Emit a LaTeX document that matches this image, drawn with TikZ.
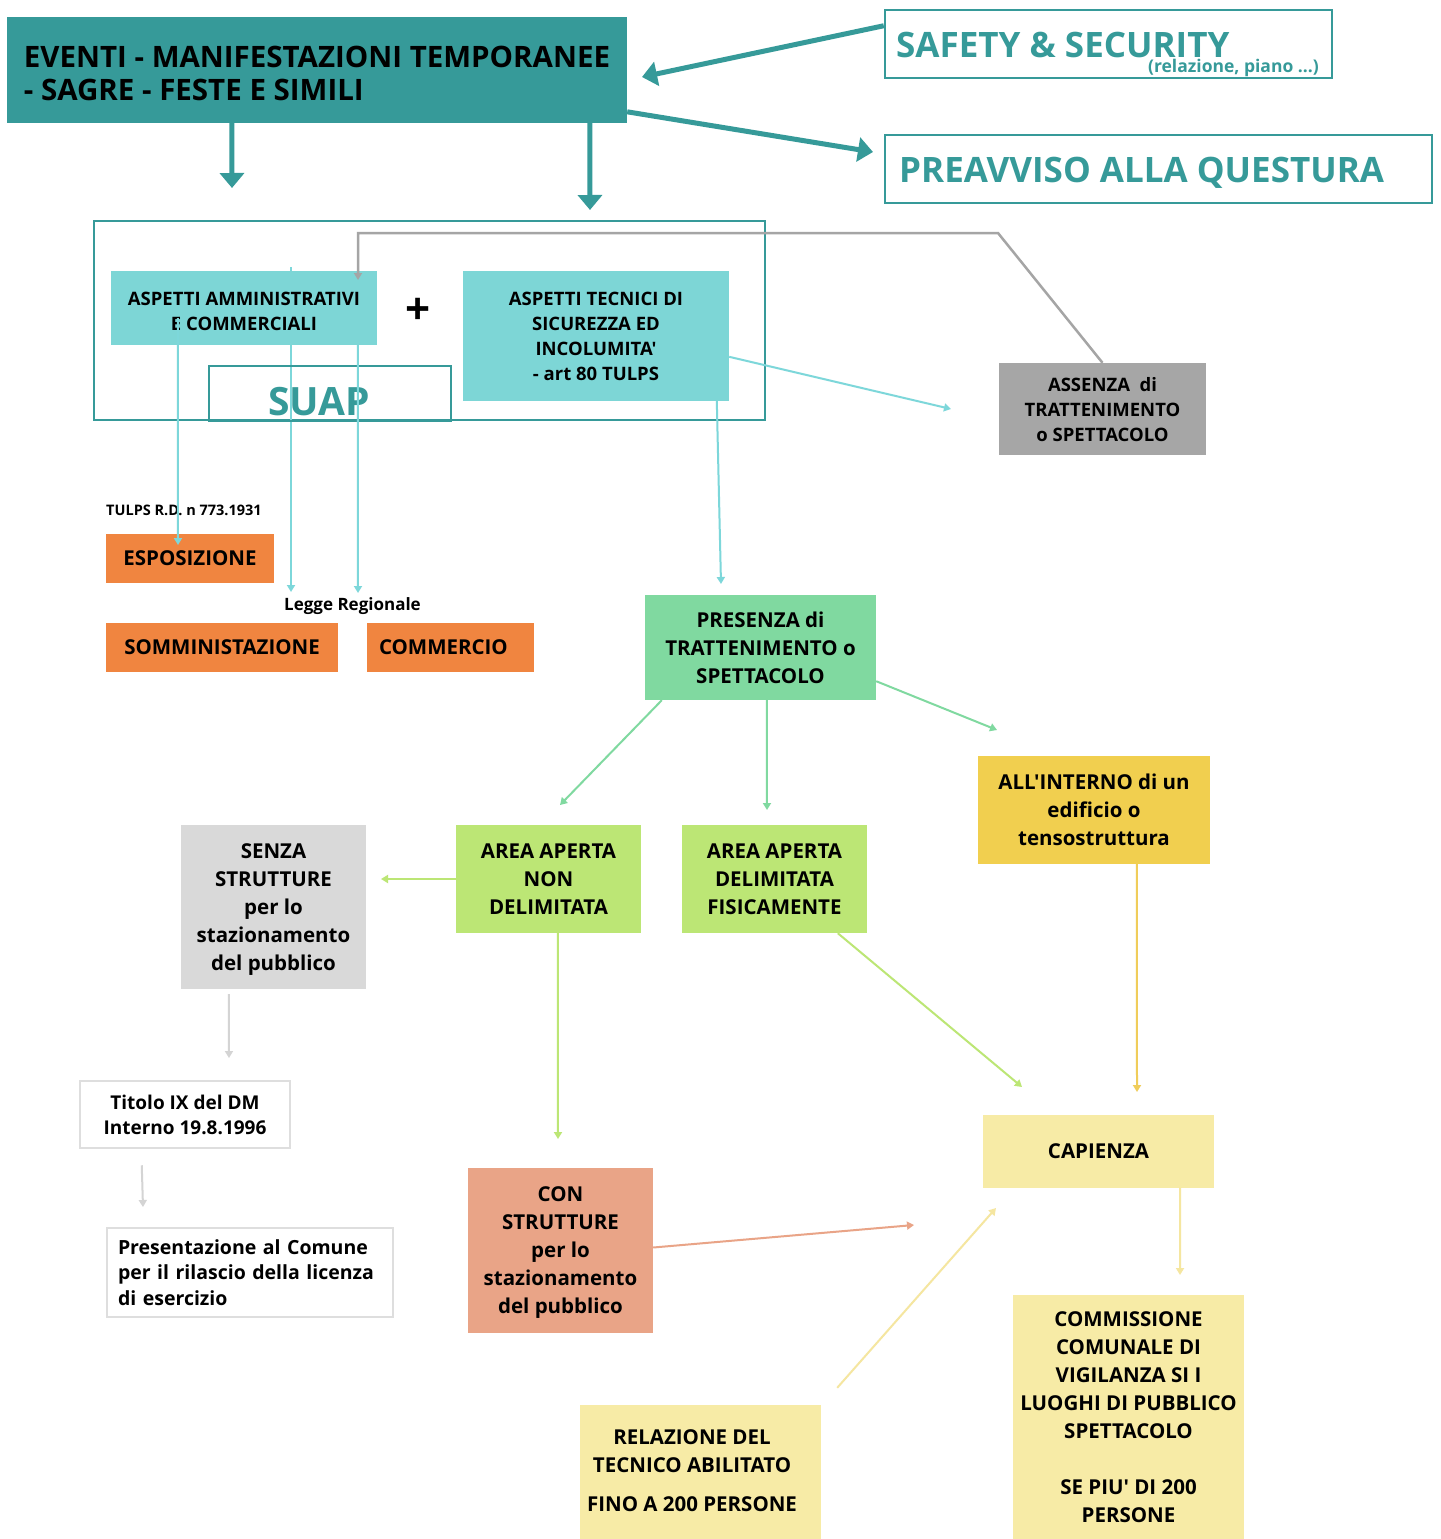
\documentclass[tikz,border=0pt]{standalone}
\usepackage{fontspec}
\setmainfont{Open Sans}[Ligatures=TeXOff]
\usetikzlibrary{arrows.meta}
\definecolor{teal1}{RGB}{54,154,153}
\definecolor{cyanbox}{RGB}{125,214,214}
\definecolor{cyanline}{RGB}{125,215,218}
\definecolor{grayline}{RGB}{165,165,165}
\definecolor{graydark}{RGB}{166,166,166}
\definecolor{orange1}{RGB}{240,133,64}
\definecolor{green1}{RGB}{128,217,160}
\definecolor{green2}{RGB}{188,230,117}
\definecolor{gold1}{RGB}{241,207,79}
\definecolor{graylight}{RGB}{217,217,217}
\definecolor{salmon1}{RGB}{233,164,135}
\definecolor{yellow1}{RGB}{247,235,166}
\definecolor{borderg}{RGB}{222,222,222}
\definecolor{arrowgray}{RGB}{212,212,212}
\definecolor{yellowline}{RGB}{245,230,160}
\definecolor{goldline}{RGB}{240,205,90}
\tikzset{
  bxb/.style={rectangle, inner sep=0pt, align=center, text=black,
    font=\bfseries\fontsize{20.5}{28}\selectfont},
  bx/.style={bxb, text depth=0pt},
  sm/.style={font=\bfseries\fontsize{18.5}{25}\selectfont},
  frame/.style={rectangle, draw=teal1, line width=2.5pt, inner sep=0pt},
  bigarrow/.style={draw=teal1, line width=5pt, -{Triangle[length=15pt,width=24pt]}},
  thinarrow/.style={line width=2pt, -{Triangle[length=7pt,width=8pt]}},
}
\begin{document}
\begin{tikzpicture}[x=1pt,y=-1pt]
\useasboundingbox (0,0) rectangle (1440,1539);
\fill[white] (0,0) rectangle (1440,1539);

% free ends
\coordinate (tS) at (642,77);
\coordinate (tQ) at (873,152);
\coordinate (tD1) at (232,188);
\coordinate (tD2) at (590,210);
\coordinate (gA) at (998,233);
\coordinate (tG) at (358,280);
\coordinate (c291) at (291,267);
\coordinate (t291) at (291,592);
\coordinate (t178) at (178,545);
\coordinate (t358) at (358,593);
\coordinate (t717) at (721,584);
\coordinate (tA) at (951,409);
\coordinate (tP1) at (560,805);
\coordinate (tP2) at (767,810);
\coordinate (tP3) at (997,730);
\coordinate (tN1) at (381,879);
\coordinate (tN2) at (558,1139);
\coordinate (tDf) at (1022,1087);
\coordinate (tI) at (1137,1092);
\coordinate (tS1) at (229,1058);
\coordinate (tT1) at (143,1207);
\coordinate (tC) at (914,1225);
\coordinate (tCap) at (1180,1275);
\coordinate (tR) at (996,1208);

% header and top boxes
\node[bx, fill=teal1, minimum width=620pt, minimum height=106pt, align=left,
  font=\bfseries\fontsize{29.5}{33}\selectfont] (header) at (317,70)
  {\rule{0pt}{27pt}EVENTI - MANIFESTAZIONI TEMPORANEE\\- SAGRE - FESTE E SIMILI};
\node[frame, minimum width=447pt, minimum height=68pt] (safety) at (1108.5,44) {};
\node[anchor=base west, inner sep=0pt, text=teal1, font=\bfseries\fontsize{35}{35}\selectfont]
  (safetyT) at (896,57) {SAFETY \& SECURITY};
\node[anchor=base east, inner sep=0pt, text=teal1, font=\bfseries\fontsize{17.5}{18}\selectfont]
  (safetySub) at (1319,72) {(relazione, piano ...)};
\node[frame, minimum width=547pt, minimum height=68pt] (preav) at (1158.5,169) {};
\node[anchor=base west, inner sep=0pt, text=teal1, font=\bfseries\fontsize{35}{35}\selectfont]
  (preavT) at (899,182) {PREAVVISO ALLA QUESTURA};

% SUAP frame
\node[frame, minimum width=671pt, minimum height=199pt] (suapframe) at (429.5,320.5) {};
\draw[thinarrow, cyanline] (c291) -- (t291);

\node[bx, sm, fill=cyanbox, minimum width=266pt, minimum height=74pt] (aam) at (244,308)
  {\rule{0pt}{20.5pt}ASPETTI AMMINISTRATIVI\\E COMMERCIALI};
\node[inner sep=0pt, font=\bfseries\fontsize{44}{44}\selectfont] (plus) at (418,311) {+};
\node[bx, sm, fill=cyanbox, minimum width=266pt, minimum height=130pt] (tec) at (596,336)
  {ASPETTI TECNICI DI\\SICUREZZA ED\\INCOLUMITA'\\- art 80 TULPS};
\node[frame, minimum width=242pt, minimum height=55pt] (suap) at (330,393.5) {};
\node[anchor=base, inner sep=0pt, text=teal1, font=\bfseries\fontsize{39}{39}\selectfont]
  (suapT) at (319,415) {SUAP};

\node[bx, sm, fill=graydark, minimum width=207pt, minimum height=92pt] (assenza) at (1102.5,409)
  {ASSENZA\ \ di\\TRATTENIMENTO\\o SPETTACOLO};

% orange boxes
\node[anchor=base west, inner sep=0pt, font=\bfseries\fontsize{14.5}{15}\selectfont]
  (tulps) at (106,515) {TULPS R.D. n 773.1931};
\node[bx, fill=orange1, minimum width=168pt, minimum height=49pt] (esp) at (190,558.5) {ESPOSIZIONE};
\node[anchor=base west, inner sep=0pt, font=\bfseries\fontsize{17}{18}\selectfont]
  (legge) at (284,610) {Legge Regionale};
\node[bx, fill=orange1, minimum width=232pt, minimum height=49pt] (somm) at (222,647.5) {SOMMINISTAZIONE};
\node[bxb, fill=orange1, minimum width=167pt, minimum height=49pt, align=left,
  text width=143pt, inner xsep=12pt] (comm) at (450.5,647.5) {COMMERCIO};

% middle
\node[bx, fill=green1, minimum width=231pt, minimum height=105pt] (pres) at (760.5,647.5)
  {PRESENZA di\\TRATTENIMENTO o\\SPETTACOLO};
\node[bx, fill=gold1, minimum width=232pt, minimum height=108pt] (allint) at (1094,810)
  {ALL'INTERNO di un\\edificio o\\tensostruttura};
\node[bx, fill=green2, minimum width=185pt, minimum height=108pt] (aan) at (548.5,879)
  {AREA APERTA\\NON\\DELIMITATA};
\node[bx, fill=green2, minimum width=185pt, minimum height=108pt] (aad) at (774.5,879)
  {AREA APERTA\\DELIMITATA\\FISICAMENTE};
\node[bx, fill=graylight, minimum width=185pt, minimum height=164pt] (senza) at (273.5,907)
  {SENZA\\STRUTTURE\\per lo\\stazionamento\\del pubblico};
\node[bx, fill=white, draw=borderg, line width=2.5pt, minimum width=210pt, minimum height=67pt,
  font=\bfseries\fontsize{19}{25}\selectfont] (titolo) at (185,1114.5)
  {Titolo IX del DM\\Interno 19.8.1996};
\node[bxb, fill=white, draw=borderg, line width=2.5pt, minimum width=286pt, minimum height=89pt,
  align=left, text width=264pt, inner xsep=11pt, font=\bfseries\fontsize{19.5}{25.5}\selectfont]
  (presen) at (250,1272.5)
  {Presentazione al Comune\\per il rilascio della licenza\\di esercizio};
\node[bx, fill=salmon1, minimum width=185pt, minimum height=165pt] (con) at (560.5,1250.5)
  {CON\\STRUTTURE\\per lo\\stazionamento\\del pubblico};
\node[bx, fill=yellow1, minimum width=231pt, minimum height=73pt] (cap) at (1098.5,1151) {CAPIENZA};
\node[bx, fill=yellow1, minimum width=231pt, minimum height=244pt] (commiss) at (1128.5,1417)
  {COMMISSIONE\\COMUNALE DI\\VIGILANZA SI I\\LUOGHI DI PUBBLICO\\SPETTACOLO\\[28pt]SE PIU' DI 200\\PERSONE};
\node[rectangle, inner sep=0pt, text=black, font=\bfseries\fontsize{20.5}{28}\selectfont,
  fill=yellow1, minimum width=241pt, minimum height=134pt] (relaz) at (700.5,1472)
  {\hspace*{-17pt}\begin{tabular}{@{}c@{}}RELAZIONE DEL\\TECNICO ABILITATO\\[11pt]FINO A 200 PERSONE\end{tabular}};

% connectors
\draw[bigarrow] ([yshift=-17pt]safety.north west) -- (tS);
\draw[bigarrow] ([yshift=-95pt]header.north east) -- (tQ);
\draw[bigarrow] ([xshift=225pt]header.south west) -- (tD1);
\draw[bigarrow] ([xshift=583pt]header.south west) -- (tD2);

\draw[thinarrow, grayline, line width=2.5pt] (assenza.north) -- (gA) -| (tG);

\draw[thinarrow, cyanline] ([xshift=67pt,yshift=27pt]aam.south west) -- (t178);
\draw[thinarrow, cyanline] ([xshift=247pt]aam.south west) -- (t358);
\draw[thinarrow, cyanline] ([xshift=254pt]tec.south west) -- (t717);
\draw[thinarrow, cyanline] ([yshift=-86pt]tec.north east) -- (tA);

\draw[thinarrow, green1] ([xshift=17pt]pres.south west) -- (tP1);
\draw[thinarrow, green1] ([xshift=122pt]pres.south west) -- (tP2);
\draw[thinarrow, green1] ([yshift=19pt]pres.south east) -- (tP3);

\draw[thinarrow, green2] (aan.west) -- (tN1);
\draw[thinarrow, green2] ([xshift=102pt]aan.south west) -- (tN2);
\draw[thinarrow, green2] ([xshift=156pt]aad.south west) -- (tDf);

\draw[thinarrow, goldline] ([xshift=159pt]allint.south west) -- (tI);

\draw[thinarrow, arrowgray] ([xshift=48pt,yshift=-5pt]senza.south west) -- (tS1);
\draw[thinarrow, arrowgray] ([xshift=63pt,yshift=-16pt]titolo.south west) -- (tT1);

\draw[thinarrow, salmon1] ([yshift=3pt]con.east) -- (tC);
\draw[thinarrow, yellowline] ([xshift=-34pt]cap.south east) -- (tCap);
\draw[thinarrow, yellowline] ([xshift=16pt,yshift=17pt]relaz.north east) -- (tR);
\end{tikzpicture}
\end{document}
